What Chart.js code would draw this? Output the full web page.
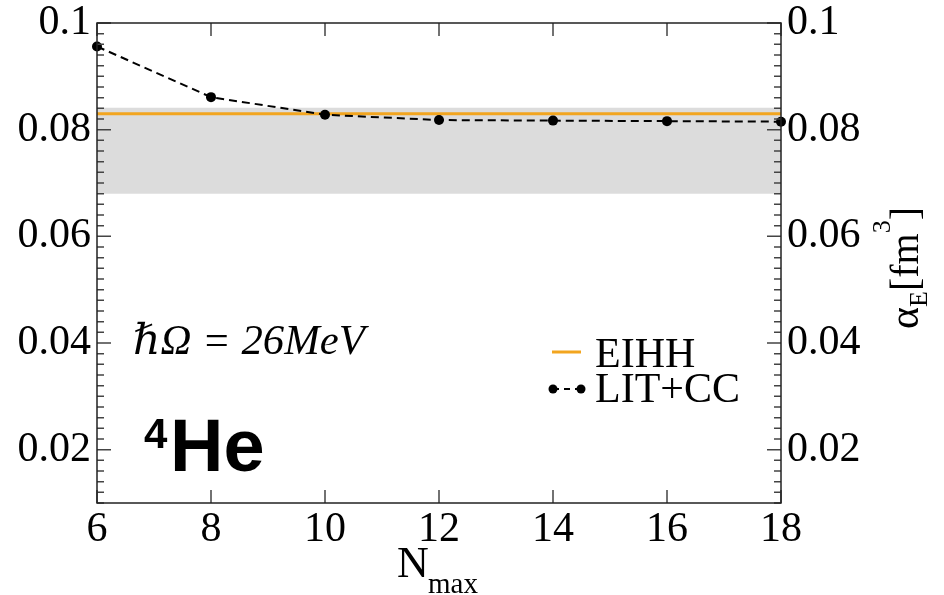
<!DOCTYPE html>
<html>
<head>
<meta charset="utf-8">
<script src="https://cdn.jsdelivr.net/npm/chart.js@4.4.1/dist/chart.umd.min.js"></script>
<style>
    html, body { margin: 0; padding: 0; background: #fff; }
    #wrap { position: relative; width: 944px; height: 595px; }
</style>
</head>
<body>
<div id="wrap"><canvas id="alpha-chart" width="944" height="595"></canvas></div>
<script>
// Data
const nmaxValues = [6, 8, 10, 12, 14, 16, 18];
const litCcValues = [0.0956, 0.0861, 0.0828, 0.0818, 0.0817, 0.0816, 0.0815];
const eihhValue = 0.0830;
const eihhBandLow = 0.0680;
const eihhBandHigh = 0.0841;
const xTickValues = [6, 8, 10, 12, 14, 16, 18];
const yTickValues = [0.02, 0.04, 0.06, 0.08, 0.1];
const yMinorStep = 0.002;
const xRange = [6, 18];
const yRange = [0.01, 0.1];

const seriesLabels = ['EIHH', 'LIT+CC'];
const orange = '#f2a51f';
const bandGray = '#dcdcdc';
const tickFont = { family: "'Liberation Serif', 'Times New Roman', serif", size: 42 };

// Flat lines spanning the whole x range
const flat = v => xRange.map(x => ({ x: x, y: v }));

// Frame, inward ticks, legend and annotations
const decorPlugin = {
    id: 'decor',
    afterDatasetsDraw(chart) {
        const ctx = chart.ctx;
        const area = chart.chartArea;
        const xs = chart.scales.x;
        const ys = chart.scales.y;
        ctx.save();

        // ticks
        ctx.strokeStyle = '#444';
        ctx.lineWidth = 1.5;
        ctx.beginPath();
        xTickValues.forEach(v => {
            const px = xs.getPixelForValue(v);
            ctx.moveTo(px, area.bottom); ctx.lineTo(px, area.bottom - 13);
            ctx.moveTo(px, area.top); ctx.lineTo(px, area.top + 13);
        });
        for (let v = yRange[0]; v <= yRange[1] + 1e-9; v += yMinorStep) {
            const py = ys.getPixelForValue(v);
            const major = yTickValues.some(t => Math.abs(t - v) < 1e-6);
            const len = major ? 14 : 7;
            ctx.moveTo(area.left, py); ctx.lineTo(area.left + len, py);
            ctx.moveTo(area.right, py); ctx.lineTo(area.right - len, py);
        }
        ctx.stroke();

        // frame
        ctx.strokeStyle = '#222';
        ctx.lineWidth = 1.5;
        ctx.strokeRect(area.left, area.top, area.right - area.left, area.bottom - area.top);

        // legend
        const eihh = chart.data.datasets[0];
        const lit = chart.data.datasets[1];
        ctx.font = "42px 'Liberation Serif', serif";
        ctx.fillStyle = '#000';
        ctx.textBaseline = 'alphabetic';
        ctx.strokeStyle = eihh.borderColor;
        ctx.lineWidth = 3;
        ctx.beginPath(); ctx.moveTo(552, 352); ctx.lineTo(581, 352); ctx.stroke();
        ctx.fillText(eihh.label, 595, 367);
        ctx.strokeStyle = '#000';
        ctx.lineWidth = 2;
        ctx.setLineDash([6, 5]);
        ctx.beginPath(); ctx.moveTo(553, 389); ctx.lineTo(581, 389); ctx.stroke();
        ctx.setLineDash([]);
        [553, 581].forEach(x => { ctx.beginPath(); ctx.arc(x, 389, 4.5, 0, Math.PI * 2); ctx.fill(); });
        ctx.fillText(lit.label, 595, 402);

        // hbar Omega annotation
        const hw = 'ℏΩ = 26MeV';
        ctx.font = "italic 36px 'Liberation Serif', 'DejaVu Serif', serif";
        const w = ctx.measureText(hw).width;
        ctx.font = "italic " + (36 * 232 / w).toFixed(1) + "px 'Liberation Serif', 'DejaVu Serif', serif";
        ctx.fillText(hw, 133, 354);

        // 4He
        ctx.font = "bold 42px 'Liberation Sans', Arial, sans-serif";
        ctx.fillText('4', 144, 448);
        ctx.font = "bold 74px 'Liberation Sans', Arial, sans-serif";
        ctx.fillText('He', 170, 471);

        // x title N_max
        ctx.font = "44px 'Liberation Serif', serif";
        ctx.fillText('N', 397, 577);
        ctx.font = "29px 'Liberation Serif', serif";
        ctx.fillText('max', 428, 593);

        // right title alpha_E [fm^3]
        ctx.translate(918, 329);
        ctx.rotate(-Math.PI / 2);
        let x = 0;
        const put = (t, size, dy) => {
            ctx.font = size + "px 'Liberation Serif', serif";
            ctx.fillText(t, x, dy);
            x += ctx.measureText(t).width;
        };
        put('α', 42, 0);
        put('E', 26, 9);
        put('[fm', 40, 0);
        put('3', 26, -28);
        put(']', 40, 0);
        ctx.restore();
    }
};

const noPadY = scale => { scale.paddingTop = 0; scale.paddingBottom = 0; };

const ctx = document.getElementById('alpha-chart').getContext('2d');
const alphaChart = new Chart(ctx, {
    type: 'line',
    data: {
        datasets: [
            {
                label: seriesLabels[0],
                data: flat(eihhValue),
                borderColor: orange,
                borderWidth: 3,
                pointRadius: 0,
                order: 1
            },
            {
                label: seriesLabels[1],
                data: nmaxValues.map((n, i) => ({ x: n, y: litCcValues[i] })),
                borderColor: '#000',
                backgroundColor: '#000',
                borderWidth: 2,
                borderDash: [8, 5],
                pointRadius: 5,
                pointBorderWidth: 0,
                clip: false,
                order: 0
            },
            {
                label: 'band high',
                data: flat(eihhBandHigh),
                borderWidth: 0,
                pointRadius: 0,
                order: 3
            },
            {
                label: 'band low',
                data: flat(eihhBandLow),
                borderWidth: 0,
                pointRadius: 0,
                backgroundColor: bandGray,
                fill: '-1',
                order: 2
            }
        ]
    },
    options: {
        responsive: false,
        animation: false,
        layout: { padding: { top: 23, left: 0, right: 0, bottom: 0 } },
        plugins: {
            legend: { display: false },
            tooltip: { enabled: false }
        },
        scales: {
            x: {
                type: 'linear',
                min: xRange[0],
                max: xRange[1],
                afterBuildTicks: scale => { scale.ticks = xTickValues.map(v => ({ value: v })); },
                afterFit: scale => { scale.height = 92; scale.paddingLeft = 0; scale.paddingRight = 0; },
                grid: { display: false, drawTicks: false },
                border: { display: false },
                ticks: { color: '#000', font: tickFont, padding: 2, maxRotation: 0 }
            },
            y: {
                min: yRange[0],
                max: yRange[1],
                afterBuildTicks: scale => { scale.ticks = yTickValues.map(v => ({ value: v })); },
                afterFit: scale => { scale.width = 97; noPadY(scale); },
                grid: { display: false, drawTicks: false },
                border: { display: false },
                ticks: { color: '#000', font: tickFont, padding: 6, callback: v => String(+v.toFixed(3)) }
            },
            y2: {
                position: 'right',
                min: yRange[0],
                max: yRange[1],
                afterBuildTicks: scale => { scale.ticks = yTickValues.map(v => ({ value: v })); },
                afterFit: scale => { scale.width = 163; noPadY(scale); },
                grid: { display: false, drawTicks: false },
                border: { display: false },
                ticks: { color: '#000', font: tickFont, padding: 6, callback: v => String(+v.toFixed(3)) }
            }
        }
    },
    plugins: [decorPlugin]
});
</script>
</body>
</html>
